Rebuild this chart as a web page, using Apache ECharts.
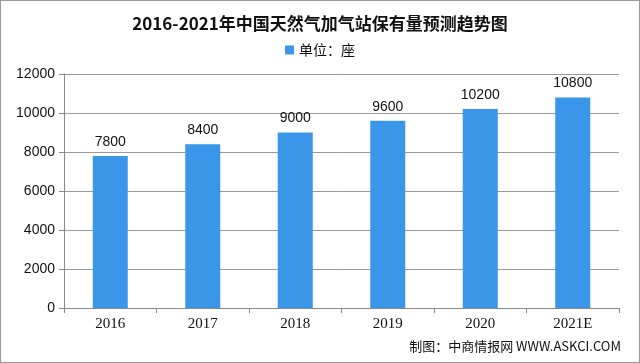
<!DOCTYPE html>
<html><head><meta charset="utf-8">
<script src="https://cdn.jsdelivr.net/npm/echarts@6/dist/echarts.min.js"></script>
<style>html,body{margin:0;padding:0;background:#fff}#c{width:640px;height:363px;box-sizing:border-box;border:1px solid #9a9a9a}</style>
</head><body><div id="c"></div>
<script>
const categories = ['2016','2017','2018','2019','2020','2021E'];
const values = [7800, 8400, 9000, 9600, 10200, 10800];
const seriesName = '单位：座';
const titleText = '2016-2021年中国天然气加气站保有量预测趋势图';
const sourceText = '制图：中商情报网 WWW.ASKCI.COM';

const chart = echarts.init(document.getElementById('c'), null, {renderer:'canvas'});
chart.setOption({
  animation:false,
  title:{text:titleText,left:'center',top:9,textStyle:{fontFamily:'Noto Sans CJK SC',fontWeight:'bold',fontSize:17,color:'#111'}},
  legend:{data:[seriesName],top:37,left:'center',itemWidth:9,itemHeight:9,itemGap:2,icon:'rect',textStyle:{fontFamily:'Noto Sans CJK SC',fontSize:14,color:'#111'}},
  graphic:[{type:'text',right:18,bottom:9,style:{text:sourceText,font:'13px "Noto Sans CJK SC"',fill:'#111'}}],
  grid:{left:63,right:20,top:73,bottom:54},
  xAxis:{type:'category',data:categories,
    axisLine:{lineStyle:{color:'#888'}},
    axisTick:{show:true,alignWithLabel:false,length:5,lineStyle:{color:'#888'}},
    axisLabel:{fontFamily:'Liberation Serif',fontSize:15,color:'#111',margin:9}},
  yAxis:{type:'value',min:0,max:12000,interval:2000,
    axisLine:{show:true,lineStyle:{color:'#888'}},
    axisTick:{show:true,length:5,lineStyle:{color:'#888'}},
    splitLine:{lineStyle:{color:'#999'}},
    axisLabel:{fontFamily:'Liberation Sans',fontSize:14,color:'#111',margin:9,formatter:function(v){return String(v);}}},
  series:[{name:seriesName,type:'bar',data:values,barWidth:35,
    itemStyle:{color:'#3a96e8'},
    label:{show:true,position:'top',distance:7,fontFamily:'Liberation Sans',fontSize:14,color:'#111'}}]
});
</script></body></html>
